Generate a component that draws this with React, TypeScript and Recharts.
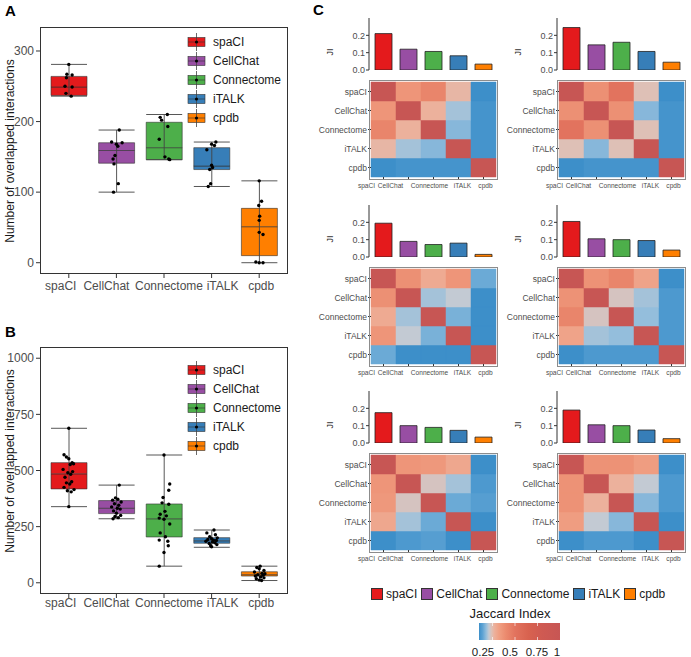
import React from "react"
import { Bar, BarChart, Cell, ComposedChart, Scatter, XAxis, YAxis } from "recharts"

const TOOLS = ["spaCI", "CellChat", "Connectome", "iTALK", "cpdb"]
const TOOL_COLORS = ["#e41a1c", "#984ea3", "#4daf4a", "#377eb8", "#ff7f00"]

// panel A: box stats + jittered points (jitter in category units)
const A_MIN = [236, 100, 146, 108, 0]
const A_Q1 = [237, 141, 146, 132, 10]
const A_MED = [249, 159, 163, 137, 51]
const A_Q3 = [264, 170, 199, 163, 77]
const A_MAX = [281, 188, 210, 171, 116]
const A_POINTS = [
  [281, 267, 266, 262, 250, 249, 240, 236],
  [188, 171, 170, 168, 165, 152, 147, 140, 112, 100],
  [210, 206, 202, 193, 175, 150, 147, 146],
  [171, 168, 166, 160, 138, 135, 132, 112, 108],
  [116, 87, 81, 66, 60, 43, 40, 1, 0, 0],
]
const A_JITTER = [
  [0.0, -0.04, 0.07, -0.05, -0.08, 0.07, -0.06, 0.05],
  [0.06, -0.1, 0.12, 0.0, 0.03, -0.03, -0.07, -0.05, 0.04, -0.06],
  [0.07, -0.08, -0.05, 0.08, -0.1, 0.02, 0.1, 0.12],
  [0.09, 0.0, 0.06, -0.1, 0.0, 0.02, -0.04, -0.02, -0.07],
  [0.0, 0.05, -0.01, 0.01, 0.0, 0.0, 0.08, -0.07, 0.08, 0.0],
]

// panel B
const B_MIN = [339, 285, 74, 158, 10]
const B_Q1 = [418, 308, 204, 176, 30]
const B_MED = [485, 332, 285, 187, 36]
const B_Q3 = [535, 366, 351, 201, 49]
const B_MAX = [688, 435, 569, 235, 74]
const B_POINTS = [
  [688, 570, 560, 552, 535, 530, 527, 505, 495, 490, 483, 470, 450, 445, 440, 425, 415, 410, 405, 339],
  [435, 378, 372, 368, 360, 352, 345, 338, 332, 328, 320, 310, 300, 295, 290, 285],
  [569, 440, 412, 380, 356, 350, 318, 305, 298, 288, 283, 262, 222, 205, 190, 185, 165, 135, 74],
  [235, 222, 214, 205, 200, 196, 193, 190, 188, 185, 182, 178, 175, 170, 165, 160],
  [74, 68, 62, 55, 48, 42, 40, 36, 33, 30, 26, 22, 18, 12, 10],
]
const B_JITTER = [
  [0.0, -0.1, -0.05, 0.0, 0.07, 0.1, 0.03, -0.12, 0.08, -0.02, 0.04, -0.08, 0.06, -0.05, 0.02, -0.1, 0.11, -0.03, 0.05, 0.0],
  [0.06, -0.02, 0.03, -0.08, 0.1, -0.04, 0.05, -0.1, 0.02, 0.08, -0.06, 0.0, 0.09, -0.03, 0.04, -0.07],
  [0.0, 0.12, 0.1, -0.02, -0.04, 0.1, 0.02, -0.08, 0.05, -0.1, 0.0, 0.12, -0.08, 0.03, -0.1, 0.08, 0.09, 0.0, -0.1],
  [0.05, -0.1, 0.08, -0.04, 0.12, 0.0, -0.08, 0.04, 0.1, -0.12, 0.02, 0.07, -0.05, 0.11, -0.02, 0.0],
  [0.02, -0.05, 0.0, 0.1, -0.1, 0.06, 0.12, -0.03, 0.08, -0.08, 0.03, 0.1, -0.06, 0.0, 0.05],
]

// panel C: JI bars and Jaccard matrices, left->right, top->bottom
const JI_1 = [0.21, 0.12, 0.107, 0.082, 0.034]
const JI_2 = [0.245, 0.145, 0.16, 0.107, 0.045]
const JI_3 = [0.195, 0.09, 0.072, 0.08, 0.015]
const JI_4 = [0.205, 0.105, 0.1, 0.095, 0.04]
const JI_5 = [0.175, 0.1, 0.09, 0.073, 0.034]
const JI_6 = [0.19, 0.105, 0.1, 0.075, 0.025]

const JAC_1 = [
  [1, 0.36, 0.42, 0.26, 0.1],
  [0.36, 1, 0.27, 0.19, 0.11],
  [0.42, 0.27, 1, 0.17, 0.11],
  [0.26, 0.19, 0.17, 1, 0.11],
  [0.1, 0.11, 0.11, 0.11, 1],
]
const JAC_2 = [
  [1, 0.38, 0.5, 0.24, 0.1],
  [0.38, 1, 0.38, 0.17, 0.11],
  [0.5, 0.38, 1, 0.24, 0.11],
  [0.24, 0.17, 0.24, 1, 0.11],
  [0.1, 0.11, 0.11, 0.11, 1],
]
const JAC_3 = [
  [1, 0.38, 0.29, 0.36, 0.15],
  [0.38, 1, 0.19, 0.21, 0.1],
  [0.29, 0.19, 1, 0.16, 0.1],
  [0.36, 0.21, 0.16, 1, 0.1],
  [0.15, 0.1, 0.1, 0.1, 1],
]
const JAC_4 = [
  [1, 0.37, 0.42, 0.31, 0.1],
  [0.37, 1, 0.23, 0.19, 0.12],
  [0.42, 0.23, 1, 0.18, 0.12],
  [0.31, 0.19, 0.18, 1, 0.12],
  [0.1, 0.12, 0.12, 0.12, 1],
]
const JAC_5 = [
  [1, 0.36, 0.35, 0.3, 0.1],
  [0.36, 1, 0.23, 0.19, 0.12],
  [0.35, 0.23, 1, 0.15, 0.13],
  [0.3, 0.19, 0.15, 1, 0.1],
  [0.1, 0.12, 0.13, 0.1, 1],
]
const JAC_6 = [
  [1, 0.37, 0.37, 0.33, 0.1],
  [0.37, 1, 0.27, 0.21, 0.12],
  [0.37, 0.27, 1, 0.17, 0.12],
  [0.33, 0.21, 0.17, 1, 0.1],
  [0.1, 0.12, 0.12, 0.1, 1],
]

const JI_SETS = [JI_1, JI_2, JI_3, JI_4, JI_5, JI_6]
const JAC_SETS = [JAC_1, JAC_2, JAC_3, JAC_4, JAC_5, JAC_6]
const COLORBAR_TICKS = ["0.25", "0.5", "0.75", "1"]

const JAC_STOPS: [number, string][] = [
  [0.1, "#3d8fc9"],
  [0.14, "#5ea3d4"],
  [0.18, "#94bedc"],
  [0.21, "#c3cad3"],
  [0.24, "#dec0b6"],
  [0.27, "#ecb19c"],
  [0.32, "#f0a084"],
  [0.4, "#eb8a6e"],
  [0.5, "#e2735e"],
  [0.65, "#d8624f"],
  [0.8, "#cf5a52"],
  [1.0, "#c75654"],
]

const FONT = '"Liberation Sans", Arial, Helvetica, sans-serif'
const TEXT = "#4d4d4d"
const LINE = "#333333"
const CAT_PAD = { left: 5, right: 5 }
const BOX_LABEL_DX = [-8, -10, 5, 11, 2]
const HEAT_LABEL_DX = [-17, -18, -4, 4, 2]

function hex(c: string) {
  return [1, 3, 5].map((i) => parseInt(c.slice(i, i + 2), 16))
}

function jaccardColor(v: number) {
  if (v <= JAC_STOPS[0][0]) return JAC_STOPS[0][1]
  for (let i = 1; i < JAC_STOPS.length; i++) {
    const [v1, c1] = JAC_STOPS[i]
    if (v <= v1) {
      const [v0, c0] = JAC_STOPS[i - 1]
      const t = (v - v0) / (v1 - v0)
      const a = hex(c0)
      const b = hex(c1)
      return `rgb(${a.map((x, k) => Math.round(x + (b[k] - x) * t)).join(",")})`
    }
  }
  return JAC_STOPS[JAC_STOPS.length - 1][1]
}

const Whisker = (p: any) => {
  const { x, y, width, height } = p
  const cx = x + width / 2
  return (
    <g stroke="#444" strokeWidth={0.9}>
      <line x1={cx} x2={cx} y1={y} y2={y + height} />
      <line x1={x} x2={x + width} y1={y} y2={y} />
      <line x1={x} x2={x + width} y1={y + height} y2={y + height} />
    </g>
  )
}

const Dot = (p: any) => <circle cx={p.cx} cy={p.cy} r={1.7} fill="#000" />

const nudgedTick = (dxs: number[], fontSize: number) => (props: any) => {
  const { x, y, payload } = props
  const i = TOOLS.indexOf(payload.value)
  return (
    <text x={x + (dxs[i] ?? 0)} y={y} dy="0.71em" textAnchor="middle" fontSize={fontSize} fill={TEXT} fontFamily={FONT}>
      {payload.value}
    </text>
  )
}

function BoxLegend({ top }: { top: number }) {
  return (
    <svg width={110} height={96} style={{ position: "absolute", left: 186, top }}>
      {TOOLS.map((name, i) => {
        const cy = 9 + i * 19
        return (
          <g key={name}>
            <line x1={10.5} x2={10.5} y1={cy - 9} y2={cy + 9} stroke="#444" strokeWidth={0.8} />
            <rect x={2} y={cy - 4.5} width={17} height={9} fill={TOOL_COLORS[i]} stroke={LINE} strokeWidth={0.6} />
            <line x1={2} x2={19} y1={cy} y2={cy} stroke={LINE} strokeWidth={0.6} />
            <line x1={10.5} x2={10.5} y1={cy - 4.5} y2={cy + 4.5} stroke="#444" strokeWidth={0.8} />
            <circle cx={10.5} cy={cy} r={1.6} fill="#000" />
            <text x={27} y={cy} dy="0.35em" fontSize={12} fill="#1a1a1a" fontFamily={FONT}>
              {name}
            </text>
          </g>
        )
      })}
    </svg>
  )
}

function BoxPanel(props: {
  top: number
  mins: number[]
  q1s: number[]
  meds: number[]
  q3s: number[]
  maxs: number[]
  points: number[][]
  jitter: number[][]
  domain: [number, number]
  ticks: number[]
  labelMargin: number
  titleY: number
  legendTop: number
}) {
  const { top, mins, q1s, meds, q3s, maxs, points, jitter, domain, ticks } = props
  const rows = TOOLS.map((name, i) => ({
    name,
    wBase: mins[i],
    wSpan: maxs[i] - mins[i],
    bBase: q1s[i],
    bLow: meds[i] - q1s[i],
    bHigh: q3s[i] - meds[i],
  }))
  const pts = points.flatMap((vals, i) => vals.map((v, k) => ({ x: i + 1 + jitter[i][k], y: v })))

  return (
    <div style={{ position: "absolute", left: 0, top, width: 300, height: 300 }}>
      <ComposedChart width={300} height={300} data={rows} margin={{ top: 27, right: 12, bottom: 6, left: 0 }}>
        <XAxis
          xAxisId="cat"
          dataKey="name"
          padding={CAT_PAD}
          height={20}
          axisLine={false}
          tickSize={4}
          tickMargin={props.labelMargin}
          tickLine={{ stroke: LINE }}
          interval={0}
          tick={nudgedTick(BOX_LABEL_DX, 12)}
        />
        <XAxis xAxisId="box" dataKey="name" padding={CAT_PAD} height={0} orientation="top" hide />
        <XAxis xAxisId="pts" dataKey="x" type="number" domain={[0.5, 5.5]} padding={CAT_PAD} height={0} orientation="top" allowDataOverflow hide />
        <YAxis
          domain={domain}
          ticks={ticks}
          width={40}
          interval={0}
          allowDataOverflow
          axisLine={false}
          tickSize={4}
          tickMargin={2}
          tickLine={{ stroke: LINE }}
          tick={{ fill: TEXT, fontSize: 12, fontFamily: FONT }}
        />
        <Bar xAxisId="box" dataKey="bBase" stackId="b" fill="transparent" barSize={36} isAnimationActive={false} />
        <Bar xAxisId="box" dataKey="bLow" stackId="b" barSize={36} stroke={LINE} strokeWidth={0.6} isAnimationActive={false}>
          {rows.map((r, i) => (
            <Cell key={r.name} fill={TOOL_COLORS[i]} />
          ))}
        </Bar>
        <Bar xAxisId="box" dataKey="bHigh" stackId="b" barSize={36} stroke={LINE} strokeWidth={0.6} isAnimationActive={false}>
          {rows.map((r, i) => (
            <Cell key={r.name} fill={TOOL_COLORS[i]} />
          ))}
        </Bar>
        <Bar xAxisId="cat" dataKey="wBase" stackId="w" fill="transparent" barSize={36} isAnimationActive={false} />
        <Bar xAxisId="cat" dataKey="wSpan" stackId="w" barSize={36} shape={Whisker} isAnimationActive={false} />
        <Scatter xAxisId="pts" data={pts} dataKey="y" shape={Dot} isAnimationActive={false} />
      </ComposedChart>
      <div
        style={{
          position: "absolute",
          left: 40,
          top: 27,
          width: 248,
          height: 247,
          border: `1px solid ${LINE}`,
          boxSizing: "border-box",
          pointerEvents: "none",
        }}
      />
      <div
        style={{
          position: "absolute",
          left: 10,
          top: props.titleY,
          transform: "translate(-50%, -50%) rotate(-90deg)",
          whiteSpace: "nowrap",
          fontSize: 12,
          color: "#1a1a1a",
        }}
      >
        Number of overlapped interactions
      </div>
      <BoxLegend top={props.legendTop} />
    </div>
  )
}

function JiBars({ values, left, top }: { values: number[]; left: number; top: number }) {
  const data = TOOLS.map((name, i) => ({ name, ji: values[i] }))
  return (
    <>
      <div style={{ position: "absolute", left: left + 339, top }}>
        <BarChart width={159} height={78} data={data} margin={{ top: 18, right: 0, bottom: 8, left: 0 }}>
          <XAxis dataKey="name" padding={{ left: 2, right: 2 }} height={0} hide />
          <YAxis
            domain={[0, 0.3]}
            ticks={[0, 0.1, 0.2]}
            width={30}
            interval={0}
            allowDataOverflow
            tickFormatter={(v: number) => v.toFixed(1)}
            tickSize={3}
            tickMargin={1}
            axisLine={{ stroke: LINE }}
            tickLine={{ stroke: LINE }}
            tick={{ fill: TEXT, fontSize: 9, fontFamily: FONT }}
          />
          <Bar dataKey="ji" barSize={17} stroke="#222" strokeWidth={0.8} isAnimationActive={false}>
            {data.map((d, i) => (
              <Cell key={d.name} fill={TOOL_COLORS[i]} />
            ))}
          </Bar>
        </BarChart>
      </div>
      <div
        style={{
          position: "absolute",
          left: left + 330,
          top: top + 52,
          transform: "translate(-50%, -50%) rotate(-90deg)",
          fontSize: 9,
          color: "#1a1a1a",
        }}
      >
        JI
      </div>
    </>
  )
}

function Heatmap({ matrix, left, top }: { matrix: number[][]; left: number; top: number }) {
  // each column is a stack of five unit cells, coloured by the Jaccard value
  const data = TOOLS.map((name) => {
    const col: Record<string, any> = { name }
    TOOLS.forEach((_, r) => (col["r" + r] = 1))
    return col
  })
  const bottomUp = [4, 3, 2, 1, 0]
  return (
    <>
      <div style={{ position: "absolute", left: left + 311, top: top + 78 }}>
        <BarChart width={187} height={113} data={data} barCategoryGap={0} margin={{ top: 4, right: 2, bottom: 0, left: 0 }}>
          <XAxis
            dataKey="name"
            height={14}
            interval={0}
            axisLine={false}
            tickSize={3}
            tickMargin={3}
            tickLine={{ stroke: LINE }}
            tick={nudgedTick(HEAT_LABEL_DX, 6.6)}
          />
          <YAxis
            type="number"
            domain={[0, 5]}
            ticks={[0.5, 1.5, 2.5, 3.5, 4.5]}
            width={60}
            interval={0}
            tickFormatter={(v: number) => TOOLS[4 - Math.floor(v)]}
            axisLine={false}
            tickSize={3}
            tickMargin={1}
            tickLine={{ stroke: LINE }}
            tick={{ fill: TEXT, fontSize: 8.5, fontFamily: FONT }}
          />
          {bottomUp.map((r) => (
            <Bar key={r} dataKey={"r" + r} stackId="h" isAnimationActive={false}>
              {TOOLS.map((name, c) => (
                <Cell key={name} fill={jaccardColor(matrix[r][c])} stroke={jaccardColor(matrix[r][c])} strokeWidth={0.5} />
              ))}
            </Bar>
          ))}
        </BarChart>
      </div>
      <div
        style={{
          position: "absolute",
          left: left + 369,
          top: top + 80,
          width: 129,
          height: 100,
          border: "1px solid #8c8c8c",
          boxSizing: "border-box",
          pointerEvents: "none",
        }}
      />
    </>
  )
}

function ColorBar() {
  const lo = JAC_STOPS[0][0]
  const hi = JAC_STOPS[JAC_STOPS.length - 1][0]
  const labelX = [483, 510, 537, 557]
  return (
    <>
      <div style={{ position: "absolute", left: 510, top: 613, transform: "translate(-50%, -50%)", fontSize: 13, color: "#1a1a1a", whiteSpace: "nowrap" }}>
        Jaccard Index
      </div>
      <svg width={81} height={17} style={{ position: "absolute", left: 479, top: 623 }}>
        <defs>
          <linearGradient id="jac" x1="0" x2="1" y1="0" y2="0">
            {JAC_STOPS.map(([v, c]) => (
              <stop key={v} offset={(v - lo) / (hi - lo)} stopColor={c} />
            ))}
            <stop offset={1} stopColor="#c8566a" />
          </linearGradient>
        </defs>
        <rect x={0} y={0} width={81} height={17} fill="url(#jac)" />
        {[0.25, 0.5, 0.75].map((v) => {
          const x = ((v - lo) / (hi - lo)) * 81
          return (
            <g key={v} stroke="#fff" strokeWidth={0.8} opacity={0.8}>
              <line x1={x} x2={x} y1={0} y2={3} />
              <line x1={x} x2={x} y1={14} y2={17} />
            </g>
          )
        })}
      </svg>
      {COLORBAR_TICKS.map((t, i) => (
        <div key={t} style={{ position: "absolute", left: labelX[i], top: 652, transform: "translate(-50%, -50%)", fontSize: 11.5, color: "#1a1a1a" }}>
          {t}
        </div>
      ))}
    </>
  )
}

function ToolLegend() {
  return (
    <div style={{ position: "absolute", left: 371, top: 587, display: "flex", gap: 4, alignItems: "center", fontSize: 12, color: "#1a1a1a" }}>
      {TOOLS.map((name, i) => (
        <div key={name} style={{ display: "flex", alignItems: "center", gap: 3 }}>
          <div style={{ width: 12, height: 12, background: TOOL_COLORS[i], border: "1px solid #333", boxSizing: "border-box" }} />
          <span>{name}</span>
        </div>
      ))}
    </div>
  )
}

const panelLabel = (text: string, left: number, top: number) => (
  <div style={{ position: "absolute", left, top, fontSize: 15, fontWeight: "bold", color: "#000", lineHeight: 1 }}>{text}</div>
)

export default function App() {
  const rowTops = [0, 187, 373]
  const colLefts = [0, 188]
  return (
    <div style={{ position: "absolute", left: 0, top: 0, width: 691, height: 657, background: "#fff", fontFamily: FONT, overflow: "hidden" }}>
      {panelLabel("A", 5, 3)}
      {panelLabel("B", 5, 324)}
      {panelLabel("C", 313, 2)}
      <BoxPanel
        top={0}
        mins={A_MIN}
        q1s={A_Q1}
        meds={A_MED}
        q3s={A_Q3}
        maxs={A_MAX}
        points={A_POINTS}
        jitter={A_JITTER}
        domain={[-16, 334]}
        ticks={[0, 100, 200, 300]}
        labelMargin={3}
        titleY={151}
        legendTop={33}
      />
      <BoxPanel
        top={320}
        mins={B_MIN}
        q1s={B_Q1}
        meds={B_MED}
        q3s={B_Q3}
        maxs={B_MAX}
        points={B_POINTS}
        jitter={B_JITTER}
        domain={[-50, 1050]}
        ticks={[0, 250, 500, 750, 1000]}
        labelMargin={0}
        titleY={141}
        legendTop={41}
      />
      {JI_SETS.map((vals, p) => (
        <JiBars key={"ji" + p} values={vals} left={colLefts[p % 2]} top={rowTops[Math.floor(p / 2)]} />
      ))}
      {JAC_SETS.map((m, p) => (
        <Heatmap key={"hm" + p} matrix={m} left={colLefts[p % 2]} top={rowTops[Math.floor(p / 2)]} />
      ))}
      <ToolLegend />
      <ColorBar />
    </div>
  )
}
